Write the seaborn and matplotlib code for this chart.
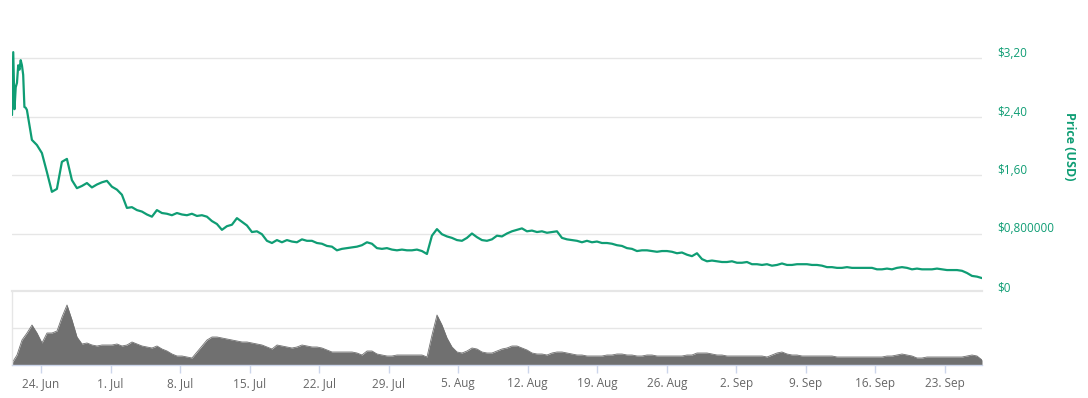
import numpy as np
import pandas as pd
import matplotlib
matplotlib.use("Agg")
import matplotlib.pyplot as plt
from matplotlib.transforms import ScaledTranslation
import seaborn as sns

sns.set_theme(style="white")
plt.rcParams["font.family"] = ["Open Sans", "DejaVu Sans"]

# ---------------- data ----------------
# first hours at 3-hour resolution
price_early = [2.42, 3.28, 2.50, 2.80, 2.86, 3.10, 3.04, 3.17, 3.10, 2.97, 2.53, 2.52]
# rest at ~12-hour resolution
price_main = [
    2.49, 2.08, 2.01, 1.90, 1.64, 1.37, 1.41, 1.78, 1.82, 1.53,
    1.42, 1.45, 1.49, 1.43, 1.47, 1.50, 1.52, 1.44, 1.40, 1.33,
    1.15, 1.16, 1.12, 1.10, 1.06, 1.03, 1.12, 1.08, 1.07, 1.05,
    1.08, 1.06, 1.05, 1.07, 1.04, 1.05, 1.03, 0.97, 0.93, 0.85,
    0.90, 0.92, 1.01, 0.96, 0.91, 0.82, 0.83, 0.79, 0.70, 0.67,
    0.71, 0.68, 0.71, 0.69, 0.68, 0.72, 0.70, 0.70, 0.67, 0.66,
    0.63, 0.62, 0.57, 0.59, 0.60, 0.61, 0.62, 0.64, 0.68, 0.66,
    0.60, 0.59, 0.60, 0.58, 0.57, 0.58, 0.57, 0.57, 0.58, 0.56,
    0.52, 0.77, 0.86, 0.79, 0.76, 0.74, 0.71, 0.70, 0.74, 0.80,
    0.75, 0.71, 0.70, 0.72, 0.77, 0.76, 0.80, 0.83, 0.85, 0.87,
    0.83, 0.84, 0.82, 0.83, 0.81, 0.82, 0.83, 0.74, 0.72, 0.71,
    0.70, 0.68, 0.70, 0.68, 0.69, 0.67, 0.67, 0.66, 0.64, 0.63,
    0.60, 0.59, 0.56, 0.57, 0.57, 0.56, 0.55, 0.56, 0.56, 0.55,
    0.53, 0.54, 0.51, 0.49, 0.53, 0.45, 0.42, 0.43, 0.42, 0.41,
    0.41, 0.42, 0.40, 0.40, 0.41, 0.38, 0.38, 0.37, 0.38, 0.36,
    0.37, 0.39, 0.37, 0.37, 0.38, 0.38, 0.38, 0.37, 0.37, 0.36,
    0.34, 0.34, 0.33, 0.33, 0.34, 0.33, 0.33, 0.33, 0.33, 0.33,
    0.31, 0.31, 0.32, 0.31, 0.33, 0.34, 0.33, 0.31, 0.32, 0.31,
    0.31, 0.31, 0.32, 0.31, 0.30, 0.30, 0.30, 0.29, 0.26, 0.22,
    0.21, 0.19,
]
volume = [
    2, 10, 25, 32, 40, 32, 22, 32, 32, 34,
    48, 60, 45, 28, 21, 22, 20, 19, 20, 20,
    20, 21, 19, 20, 23, 21, 19, 18, 17, 19,
    16, 14, 11, 9, 9, 8, 7, 13, 19, 25,
    28, 28, 27, 26, 25, 24, 23, 23, 22, 21,
    20, 18, 16, 20, 19, 18, 17, 18, 20, 19,
    18, 18, 17, 15, 13, 13, 13, 13, 13, 12,
    10, 14, 14, 11, 10, 9, 9, 10, 10, 10,
    10, 10, 10, 8, 30, 50, 40, 27, 18, 13,
    12, 14, 17, 16, 13, 12, 12, 14, 16, 17,
    19, 19, 17, 15, 12, 11, 11, 10, 12, 13,
    13, 12, 11, 10, 10, 9, 9, 9, 9, 10,
    10, 11, 11, 10, 10, 9, 9, 10, 10, 9,
    9, 9, 9, 9, 9, 10, 10, 12, 12, 12,
    11, 10, 10, 9, 9, 9, 9, 9, 9, 9,
    9, 8, 10, 12, 13, 11, 10, 10, 9, 9,
    9, 9, 9, 9, 9, 8, 8, 8, 8, 8,
    8, 8, 8, 8, 8, 9, 9, 10, 11, 10,
    9, 7, 7, 8, 8, 8, 8, 8, 8, 8,
    8, 9, 10, 9, 5,
]
price_ticks = [0, 0.8, 1.6, 2.4, 3.2]
price_tick_labels = ["$0", "$0,800000", "$1,60", "$2,40", "$3,20"]
x_tick_dates = ["2018-06-24", "2018-07-01", "2018-07-08", "2018-07-15", "2018-07-22",
                "2018-07-29", "2018-08-05", "2018-08-12", "2018-08-19", "2018-08-26",
                "2018-09-02", "2018-09-09", "2018-09-16", "2018-09-23"]
x_tick_labels = ["24. Jun", "1. Jul", "8. Jul", "15. Jul", "22. Jul", "29. Jul",
                 "5. Aug", "12. Aug", "19. Aug", "26. Aug", "2. Sep", "9. Sep",
                 "16. Sep", "23. Sep"]

start = pd.Timestamp("2018-06-21 02:00")
end = pd.Timestamp("2018-09-26 17:20")
early_dates = pd.date_range(start, periods=len(price_early), freq="3h")
main_dates = pd.date_range(start + pd.Timedelta(hours=36), end, periods=len(price_main))
vol_dates = pd.date_range(start, end, periods=len(volume))

price_df = pd.DataFrame({
    "date": list(early_dates) + list(main_dates),
    "price": price_early + price_main,
})
vol_df = pd.DataFrame({"date": vol_dates, "volume": volume})

GREEN = "#0f9d74"
GRAY = "#707070"
GRID = "#e6e6e6"

# ---------------- figure ----------------
W, H = 1088, 398
fig = plt.figure(figsize=(W / 100, H / 100), dpi=100)
ax = fig.add_axes([12 / W, (H - 292) / H, 970 / W, (292 - 45) / H])
ax2 = fig.add_axes([12 / W, (H - 365) / H, 970 / W, (365 - 291) / H], sharex=ax)

# price line
sns.lineplot(data=price_df, x="date", y="price", ax=ax, color=GREEN, linewidth=1.6)
ax.set_ylim(0, 3.2 * 247 / 234)
ax.set_yticks(price_ticks)
ax.set_yticklabels(price_tick_labels)
ax.yaxis.tick_right()
ax.tick_params(axis="y", length=0, pad=11, labelsize=8.5, labelcolor=GREEN)
ax.tick_params(axis="x", bottom=False, labelbottom=False)
ax.grid(axis="y", color=GRID, linewidth=1)
ax.grid(axis="x", visible=False)
for s in ax.spines.values():
    s.set_visible(False)
ax.set_xlabel("")
ax.set_ylabel("")
off = ScaledTranslation(0, 6 / 100, fig.dpi_scale_trans)
for lab in ax.get_yticklabels():
    lab.set_transform(lab.get_transform() + off)

fig.text(1070 / W, 1 - 146 / H, "Price (USD)", rotation=270, ha="center", va="center",
         color=GREEN, fontweight="bold", fontsize=9)

# volume area
ax2.fill_between(vol_df["date"], vol_df["volume"], color=GRAY, linewidth=0)
sns.lineplot(data=vol_df, x="date", y="volume", ax=ax2, color=GRAY, linewidth=0.6)
ax2.set_ylim(0, 74)
ax2.set_yticks([37])
ax2.tick_params(axis="y", left=False, right=False, labelleft=False)
ax2.grid(axis="y", color=GRID, linewidth=1)
ax2.grid(axis="x", visible=False)
ax2.set_xlim(start, end)
ax2.set_xticks(pd.to_datetime(x_tick_dates))
ax2.set_xticklabels(x_tick_labels)
ax2.tick_params(axis="x", bottom=True, length=6, width=1, color="#ccd6eb",
                labelsize=8.5, labelcolor="#666666", pad=3)
ax2.spines["top"].set_color(GRID)
ax2.spines["top"].set_linewidth(1.6)
ax2.spines["left"].set_color(GRID)
ax2.spines["left"].set_linewidth(1)
ax2.spines["right"].set_visible(False)
ax2.spines["bottom"].set_color("#ccd6eb")
ax2.spines["bottom"].set_linewidth(1)
ax2.set_xlabel("")
ax2.set_ylabel("")

fig.savefig("out.png", dpi=100)
